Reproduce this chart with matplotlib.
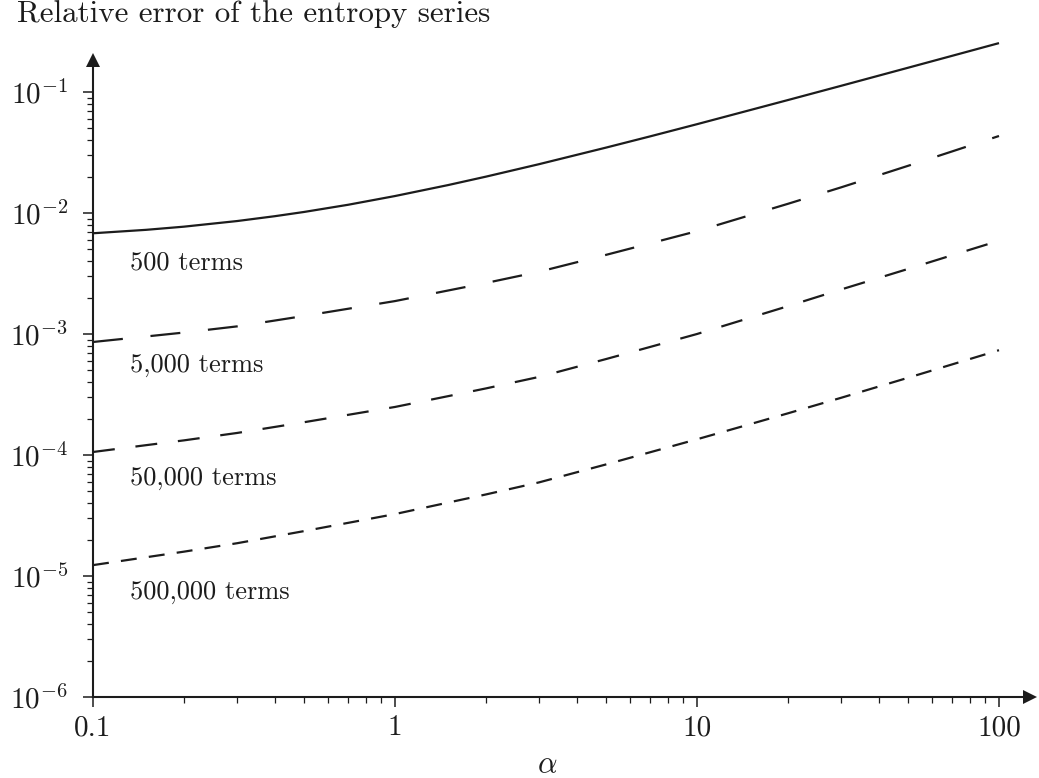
import numpy as np
import matplotlib
matplotlib.use("Agg")
import matplotlib.pyplot as plt
from matplotlib.ticker import FixedLocator, NullFormatter

# Relative error of the truncated entropy series for several truncation lengths
alpha = [0.1, 0.15, 0.2, 0.3, 0.4, 0.5, 0.7, 1, 1.5, 2, 3, 5, 7, 10, 15, 20,
         30, 50, 70, 100]
err_500 = [6.80e-3, 7.26e-3, 7.71e-3, 8.58e-3, 9.41e-3, 1.020e-2, 1.170e-2,
           1.381e-2, 1.702e-2, 1.997e-2, 2.533e-2, 3.472e-2, 4.30e-2, 5.42e-2,
           7.09e-2, 8.58e-2, 0.1125, 0.1587, 0.1992, 0.2536]
err_5000 = [8.59e-4, 9.54e-4, 1.028e-3, 1.156e-3, 1.292e-3, 1.41e-3, 1.617e-3,
            1.871e-3, 2.289e-3, 2.64e-3, 3.27e-3, 4.51e-3, 5.61e-3, 7.08e-3,
            9.60e-3, 1.191e-2, 1.629e-2, 2.455e-2, 3.23e-2, 4.33e-2]
err_50000 = [1.059e-4, 1.206e-4, 1.321e-4, 1.521e-4, 1.706e-4, 1.866e-4,
             2.148e-4, 2.495e-4, 3.065e-4, 3.55e-4, 4.42e-4, 6.21e-4, 7.82e-4,
             1.0e-3, 1.363e-3, 1.698e-3, 2.333e-3, 3.45e-3, 4.48e-3, 5.90e-3]
err_500000 = [1.230e-5, 1.429e-5, 1.589e-5, 1.866e-5, 2.125e-5, 2.35e-5,
              2.750e-5, 3.25e-5, 4.045e-5, 4.72e-5, 5.94e-5, 8.36e-5, 1.054e-4,
              1.349e-4, 1.799e-4, 2.21e-4, 2.97e-4, 4.35e-4, 5.61e-4, 7.35e-4]
series_labels = ["500 terms", "5,000 terms", "50,000 terms", "500,000 terms"]

x_ticks = [0.1, 1, 10, 100]
x_tick_labels = ["0.1", "1", "10", "100"]
y_ticks = [1e-6, 1e-5, 1e-4, 1e-3, 1e-2, 1e-1]
y_tick_labels = [r"$10^{-6}$", r"$10^{-5}$", r"$10^{-4}$", r"$10^{-3}$",
                 r"$10^{-2}$", r"$10^{-1}$"]

plt.rcParams.update({
    "font.family": "serif",
    "font.serif": ["cmr10", "DejaVu Serif"],
    "mathtext.fontset": "cm",
    "axes.unicode_minus": False,
    "lines.scale_dashes": False,
})

ink = "#1c1c1c"
W, H = 1039, 778
fig = plt.figure(figsize=(W / 100, H / 100), dpi=100)

# axes box in pixels: left spine at x=93, bottom spine at y=697
left_px, right_px = 93, 1030
bottom_px, top_px = 697, 60
ax = fig.add_axes([left_px / W, 1 - bottom_px / H,
                   (right_px - left_px) / W, (bottom_px - top_px) / H])
ax.set_xscale("log")
ax.set_yscale("log")
dec_x = 302.0
dec_y = 121.0
ax.set_xlim(0.1, 10 ** (-1 + (right_px - left_px) / dec_x))
ax.set_ylim(1e-6, 10 ** (-6 + (bottom_px - top_px) / dec_y))

styles = [
    dict(linestyle="-"),
    dict(linestyle=(0, (21.6, 20.0))),
    dict(linestyle=(0, (15.8, 15.0))),
    dict(linestyle=(0, (11.5, 8.8))),
]
for ys, st in zip([err_500, err_5000, err_50000, err_500000], styles):
    ax.plot(alpha, ys, color=ink, lw=1.6, solid_capstyle="butt",
            solid_joinstyle="round", dash_capstyle="butt", clip_on=False, **st)

label_pos = [(0.133, 3.44e-3), (0.133, 4.85e-4), (0.133, 5.65e-5), (0.133, 6.45e-6)]
for (lx, ly), txt in zip(label_pos, series_labels):
    ax.text(lx, ly, txt, fontsize=19, color=ink, ha="left", va="baseline")

# spines: only left and bottom, with arrow heads
for s in ["top", "right"]:
    ax.spines[s].set_visible(False)
for s in ["left", "bottom"]:
    ax.spines[s].set_linewidth(1.5)
    ax.spines[s].set_color(ink)
ax.plot(1, 0, marker=">", ms=10, color=ink, transform=ax.transAxes,
        clip_on=False, mew=0)
ax.plot(0, 1, marker="^", ms=10, color=ink, transform=ax.transAxes,
        clip_on=False, mew=0)

ax.xaxis.set_major_locator(FixedLocator(x_ticks))
ax.set_xticklabels(x_tick_labels)
ax.xaxis.set_minor_locator(FixedLocator(
    [m * 10.0 ** e for e in range(-1, 2) for m in range(2, 10)]))
ax.xaxis.set_minor_formatter(NullFormatter())
ax.yaxis.set_major_locator(FixedLocator(y_ticks))
ax.set_yticklabels(y_tick_labels)
ax.yaxis.set_minor_locator(FixedLocator(
    [m * 10.0 ** e for e in range(-6, -1) for m in range(2, 10)]))
ax.yaxis.set_minor_formatter(NullFormatter())

ax.tick_params(which="major", direction="out", length=7, width=1.1,
               color=ink, labelcolor=ink, labelsize=21)
ax.tick_params(which="minor", direction="out", length=4, width=0.9, color=ink)
ax.tick_params(axis="x", which="major", pad=6)
ax.tick_params(axis="y", which="major", pad=11)

# axis label and title
fig.text(547 / W, 1 - 773 / H, r"$\alpha$", fontsize=22, color=ink,
         ha="center", va="baseline")
fig.text(17 / W, 1 - 22 / H, "Relative error of the entropy series",
         fontsize=22.3, color=ink, ha="left", va="baseline")

fig.savefig("out.png", dpi=100)
